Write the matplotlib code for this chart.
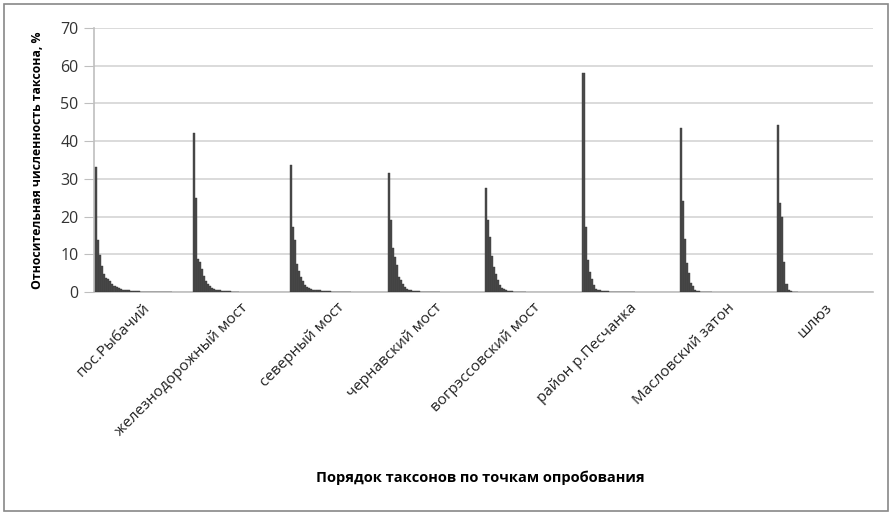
import matplotlib.pyplot as plt
from matplotlib.patches import Rectangle

# sampling points
sites = ["пос.Рыбачий", "железнодорожный мост", "северный мост",
         "чернавский мост", "вогрэссовский мост", "район р.Песчанка",
         "Масловский затон", "шлюз"]

# relative abundance of taxa, ranked, %
rybachiy = [33.2, 13.8, 9.9, 6.9, 4.7, 3.8, 3.5, 3.0, 2.2, 1.7, 1.2, 1.0,
            0.7, 0.6, 0.5, 0.4, 0.4, 0.3, 0.3, 0.2, 0.2, 0.2, 0.1, 0.1,
            0.1, 0.1, 0.1, 0.1, 0.1, 0.1, 0.05, 0.05, 0.05, 0.05, 0.05,
            0.05, 0.05, 0.05]
zhd_most = [42.0, 24.9, 8.7, 8.0, 6.0, 4.3, 3.0, 2.2, 1.5, 1.0, 0.8, 0.6,
            0.5, 0.4, 0.3, 0.3, 0.2, 0.2, 0.2, 0.1, 0.1, 0.1, 0.1]
severny = [33.6, 17.2, 13.9, 7.3, 5.5, 4.1, 2.8, 1.8, 1.4, 1.1, 0.9, 0.6,
           0.5, 0.4, 0.4, 0.3, 0.3, 0.2, 0.2, 0.2, 0.1, 0.1, 0.1, 0.1,
           0.1, 0.1, 0.05, 0.05, 0.05, 0.05]
chernavsky = [31.5, 19.2, 11.6, 9.4, 7.1, 4.0, 3.1, 2.2, 1.3, 0.9, 0.6,
              0.4, 0.3, 0.3, 0.2, 0.2, 0.1, 0.1, 0.1, 0.1, 0.1, 0.05,
              0.05, 0.05, 0.05, 0.05]
vogres = [27.6, 19.2, 14.5, 9.6, 6.6, 4.8, 3.1, 1.8, 1.1, 0.8, 0.4, 0.3,
          0.2, 0.2, 0.1, 0.1, 0.1, 0.1, 0.05, 0.05]
peschanka = [58.1, 17.3, 8.4, 5.3, 3.5, 1.8, 0.9, 0.6, 0.4, 0.3, 0.3, 0.2,
             0.2, 0.1, 0.1, 0.1, 0.1, 0.1, 0.05, 0.05, 0.05, 0.05, 0.05,
             0.05, 0.05, 0.05]
maslovsky = [43.4, 24.2, 14.0, 7.8, 5.1, 2.5, 1.6, 0.5, 0.3, 0.2, 0.1,
             0.1, 0.1, 0.05, 0.05, 0.05]
shlyuz = [44.2, 23.5, 19.9, 8.0, 2.2, 0.4, 0.2, 0.1, 0.05, 0.05]

series = [rybachiy, zhd_most, severny, chernavsky, vogres, peschanka,
          maslovsky, shlyuz]

slots = 48
slot_w = 1.0 / slots

plt.rcParams['font.family'] = ['Open Sans', 'DejaVu Sans']

fig = plt.figure(figsize=(8.93, 5.15), dpi=100)
ax = fig.add_axes([0.105, 0.433, 0.873, 0.513])

for i, vals in enumerate(series):
    xs = [i + 0.015 + (j + 0.5) * slot_w for j in range(len(vals))]
    ax.bar(xs, vals, width=slot_w, color='#4a4a4a', edgecolor='#3a3a3a',
           linewidth=0.3, zorder=3)

ax.set_xlim(0, len(sites))
ax.set_ylim(0, 70)
ax.set_yticks(range(0, 71, 10))
ax.yaxis.grid(True, color='#d4d4d4', linewidth=1.2, zorder=0)
ax.set_axisbelow(True)

ax.set_xticks([i + 0.5 for i in range(len(sites))])
ax.set_xticklabels(sites, rotation=45, ha='right', rotation_mode='anchor',
                   fontsize=11, color='#222222')
ax.tick_params(axis='x', length=0, pad=6)
ax.tick_params(axis='y', length=7, color='#bfbfbf', labelsize=11.5,
               labelcolor='#333333', pad=4)

for side in ['top', 'right']:
    ax.spines[side].set_visible(False)
ax.spines['left'].set_color('#bfbfbf')
ax.spines['bottom'].set_color('#bfbfbf')
ax.spines['left'].set_linewidth(1.2)
ax.spines['bottom'].set_linewidth(1.2)

ax.set_ylabel("Относительная численность таксона, %", fontsize=8.8,
              fontweight='bold', labelpad=12)
fig.text(0.538, 0.073, "Порядок таксонов по точкам опробования",
         ha='center', va='center', fontsize=10.5, fontweight='bold')

# chart area border
fig.patches.append(Rectangle((0.004, 0.008), 0.99, 0.985,
                             transform=fig.transFigure, fill=False,
                             edgecolor='#888888', linewidth=1.2))

fig.savefig("out.png", dpi=100)
